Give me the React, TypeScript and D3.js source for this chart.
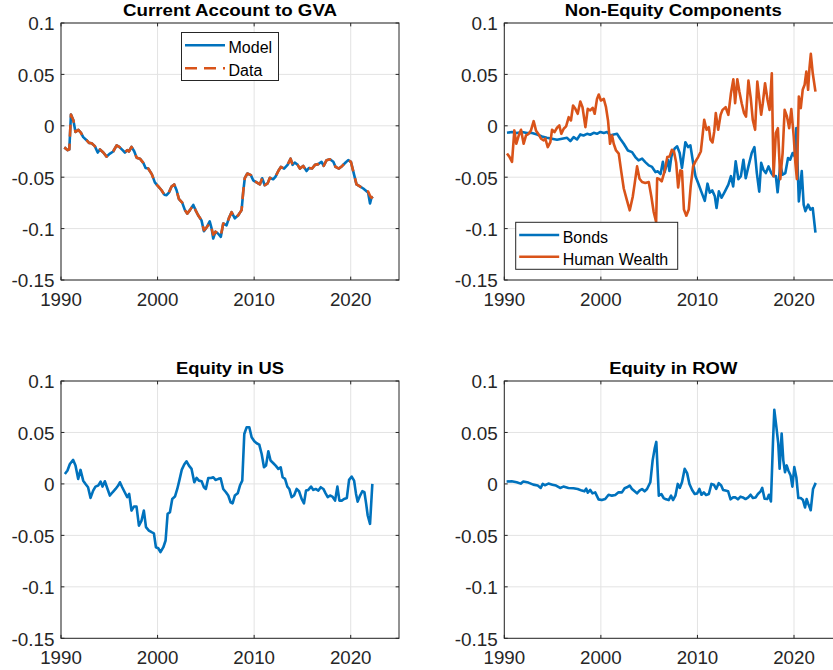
import React from "react";
import * as d3 from "d3";

// ---------- data ----------
const caYears = [1990.34, 1990.7, 1990.86, 1991.03, 1991.28, 1991.5, 1991.8, 1992.07, 1992.3, 1992.65, 1992.9, 1993.17, 1993.5, 1993.8, 1994.03, 1994.38, 1994.72, 1995.07, 1995.4, 1995.76, 1996.03, 1996.38, 1996.62, 1996.86, 1997.03, 1997.3, 1997.58, 1997.83, 1998.17, 1998.52, 1998.76, 1999.03, 1999.4, 1999.72, 2000.07, 2000.41, 2000.7, 2000.93, 2001.17, 2001.45, 2001.72, 2001.97, 2002.2, 2002.55, 2002.83, 2003.07, 2003.35, 2003.7, 2003.93, 2004.2, 2004.55, 2004.8, 2005.07, 2005.4, 2005.6, 2005.76, 2006.0, 2006.28, 2006.55, 2006.8, 2007.14, 2007.38, 2007.66, 2008.0, 2008.35, 2008.7, 2008.87, 2009.03, 2009.3, 2009.66, 2009.9, 2010.25, 2010.6, 2010.83, 2011.1, 2011.4, 2011.63, 2011.97, 2012.2, 2012.5, 2012.77, 2013.1, 2013.46, 2013.77, 2013.98, 2014.2, 2014.5, 2014.74, 2015.08, 2015.43, 2015.67, 2016.0, 2016.3, 2016.64, 2016.98, 2017.2, 2017.5, 2017.84, 2018.2, 2018.43, 2018.78, 2019.12, 2019.47, 2019.74, 2020.02, 2020.36, 2020.6, 2020.95, 2021.3, 2021.64, 2021.8, 2022.0, 2022.15, 2022.3];
const caModel = [-0.021, -0.0237, -0.023, 0.011, 0.0055, -0.006, -0.004, -0.0068, -0.011, -0.014, -0.0166, -0.017, -0.0198, -0.026, -0.023, -0.026, -0.03, -0.027, -0.025, -0.019, -0.0205, -0.0237, -0.026, -0.0237, -0.025, -0.0205, -0.0247, -0.031, -0.032, -0.036, -0.041, -0.0416, -0.047, -0.055, -0.059, -0.0627, -0.067, -0.0675, -0.065, -0.059, -0.057, -0.0627, -0.071, -0.0747, -0.082, -0.0854, -0.082, -0.077, -0.082, -0.087, -0.092, -0.1026, -0.099, -0.093, -0.1, -0.1097, -0.103, -0.105, -0.108, -0.095, -0.0968, -0.09, -0.084, -0.09, -0.087, -0.082, -0.064, -0.051, -0.0464, -0.048, -0.053, -0.055, -0.057, -0.051, -0.0578, -0.056, -0.0506, -0.052, -0.0497, -0.044, -0.04, -0.0416, -0.038, -0.032, -0.038, -0.0357, -0.038, -0.0416, -0.039, -0.044, -0.041, -0.0416, -0.038, -0.0373, -0.035, -0.039, -0.0334, -0.0325, -0.035, -0.04, -0.0416, -0.039, -0.0357, -0.0334, -0.035, -0.048, -0.057, -0.059, -0.061, -0.0636, -0.065, -0.0756, -0.07, -0.069];
const caData = [-0.021, -0.0237, -0.023, 0.011, 0.0055, -0.006, -0.004, -0.0068, -0.011, -0.014, -0.0166, -0.017, -0.0198, -0.025, -0.023, -0.026, -0.03, -0.027, -0.025, -0.019, -0.0205, -0.0237, -0.026, -0.0237, -0.025, -0.0205, -0.0247, -0.031, -0.032, -0.036, -0.041, -0.0416, -0.047, -0.055, -0.059, -0.0627, -0.067, -0.0675, -0.065, -0.059, -0.057, -0.0627, -0.071, -0.0747, -0.082, -0.0854, -0.082, -0.077, -0.082, -0.087, -0.092, -0.1016, -0.099, -0.095, -0.1, -0.106, -0.103, -0.105, -0.107, -0.095, -0.0968, -0.09, -0.084, -0.09, -0.087, -0.082, -0.064, -0.051, -0.0464, -0.048, -0.053, -0.055, -0.057, -0.051, -0.0578, -0.056, -0.0506, -0.052, -0.0497, -0.044, -0.04, -0.0416, -0.038, -0.032, -0.038, -0.0357, -0.038, -0.0416, -0.039, -0.044, -0.041, -0.0416, -0.038, -0.0373, -0.035, -0.039, -0.0334, -0.0325, -0.035, -0.04, -0.0416, -0.039, -0.0357, -0.0334, -0.035, -0.048, -0.057, -0.059, -0.061, -0.0636, -0.064, -0.068, -0.07, -0.069];

const bondYears = [1990.28, 1990.8, 1991.3, 1991.83, 1992.35, 1992.87, 1993.4, 1993.9, 1994.4, 1994.94, 1995.46, 1995.98, 1996.5, 1996.84, 1997.18, 1997.53, 1997.87, 1998.2, 1998.57, 1998.9, 1999.26, 1999.6, 1999.95, 2000.3, 2000.64, 2000.98, 2001.33, 2001.68, 2002.0, 2002.37, 2002.8, 2003.23, 2003.57, 2003.9, 2004.27, 2004.6, 2004.96, 2005.3, 2005.65, 2005.9, 2006.18, 2006.42, 2006.6, 2006.94, 2007.1, 2007.3, 2007.64, 2007.9, 2008.16, 2008.4, 2008.75, 2009.03, 2009.27, 2009.55, 2009.8, 2010.07, 2010.4, 2010.76, 2011.04, 2011.28, 2011.53, 2011.8, 2011.98, 2012.22, 2012.5, 2012.85, 2013.2, 2013.47, 2013.7, 2013.96, 2014.24, 2014.5, 2014.76, 2015.0, 2015.28, 2015.62, 2015.9, 2016.15, 2016.4, 2016.6, 2016.84, 2017.08, 2017.36, 2017.64, 2017.88, 2018.12, 2018.3, 2018.58, 2018.82, 2019.1, 2019.38, 2019.6, 2019.86, 2020.07, 2020.24, 2020.5, 2020.8, 2021.0, 2021.18, 2021.46, 2021.7, 2021.94, 2022.22];
const bondVals = [-0.0068, -0.006, -0.007, -0.006, -0.007, -0.007, -0.0084, -0.0104, -0.0117, -0.0126, -0.0136, -0.0126, -0.0117, -0.0149, -0.011, -0.0133, -0.0084, -0.0094, -0.0078, -0.0087, -0.0068, -0.0078, -0.006, -0.007, -0.006, -0.0094, -0.0084, -0.0078, -0.0126, -0.0175, -0.024, -0.0256, -0.0304, -0.0337, -0.032, -0.0353, -0.0385, -0.04, -0.045, -0.0443, -0.047, -0.035, -0.045, -0.033, -0.044, -0.03, -0.022, -0.02, -0.0265, -0.041, -0.016, -0.0207, -0.019, -0.036, -0.049, -0.0557, -0.064, -0.073, -0.0563, -0.065, -0.0628, -0.0686, -0.08, -0.0638, -0.07, -0.0638, -0.0573, -0.049, -0.059, -0.0346, -0.052, -0.049, -0.033, -0.051, -0.0395, -0.0265, -0.0207, -0.046, -0.064, -0.036, -0.043, -0.046, -0.0395, -0.046, -0.049, -0.049, -0.0647, -0.0379, -0.0476, -0.046, -0.0314, -0.033, -0.0265, -0.0298, -0.0023, -0.0735, -0.044, -0.0767, -0.083, -0.0767, -0.0815, -0.08, -0.104];

const hwYears = [1990.28, 1990.52, 1990.8, 1991.04, 1991.24, 1991.5, 1991.73, 1992.0, 1992.25, 1992.52, 1992.76, 1993.04, 1993.28, 1993.56, 1993.8, 1994.08, 1994.25, 1994.5, 1994.77, 1994.94, 1995.2, 1995.46, 1995.7, 1995.9, 1996.15, 1996.4, 1996.67, 1996.9, 1997.12, 1997.36, 1997.6, 1997.87, 1998.1, 1998.4, 1998.64, 1998.9, 1999.15, 1999.36, 1999.6, 1999.78, 2000.0, 2000.3, 2000.53, 2000.74, 2000.95, 2001.16, 2001.33, 2001.57, 2001.85, 2002.12, 2002.37, 2002.7, 2002.99, 2003.3, 2003.5, 2003.75, 2004.0, 2004.27, 2004.6, 2004.96, 2005.23, 2005.47, 2005.72, 2005.83, 2006.08, 2006.3, 2006.6, 2006.88, 2007.12, 2007.36, 2007.57, 2007.8, 2008.0, 2008.23, 2008.4, 2008.6, 2008.85, 2009.1, 2009.3, 2009.55, 2009.8, 2010.07, 2010.35, 2010.52, 2010.7, 2010.94, 2011.18, 2011.35, 2011.56, 2011.74, 2011.9, 2012.15, 2012.4, 2012.6, 2012.92, 2013.2, 2013.47, 2013.72, 2013.9, 2014.13, 2014.34, 2014.58, 2014.83, 2015.03, 2015.28, 2015.52, 2015.73, 2015.97, 2016.2, 2016.42, 2016.6, 2016.77, 2017.0, 2017.26, 2017.47, 2017.7, 2017.88, 2018.12, 2018.33, 2018.58, 2018.82, 2019.03, 2019.27, 2019.5, 2019.72, 2019.97, 2020.14, 2020.3, 2020.5, 2020.7, 2020.9, 2021.1, 2021.28, 2021.46, 2021.6, 2021.74, 2021.94, 2022.22];
const hwVals = [-0.027, -0.03, -0.035, -0.0045, -0.0175, -0.0094, -0.0039, -0.0175, -0.0094, -0.0078, -0.0045, 0.0045, -0.0045, -0.0084, -0.0126, -0.0142, -0.0126, -0.0207, -0.0159, -0.0039, -0.0061, -0.0019, 0.0003, -0.0078, -0.0029, -0.0006, 0.0084, 0.0052, 0.0197, 0.0165, 0.0117, 0.0236, 0.0181, -0.0013, 0.0165, 0.0149, 0.0175, 0.0117, 0.0262, 0.0304, 0.0246, 0.0262, 0.0181, 0.0052, -0.0175, -0.0094, -0.0175, -0.024, -0.027, -0.045, -0.061, -0.0725, -0.0822, -0.069, -0.0563, -0.0395, -0.0515, -0.0547, -0.0557, -0.0547, -0.069, -0.0838, -0.0935, -0.051, -0.052, -0.054, -0.044, -0.0304, -0.0298, -0.0233, -0.025, -0.036, -0.06, -0.0434, -0.044, -0.0815, -0.0874, -0.0815, -0.059, -0.0395, -0.0346, -0.0304, -0.025, -0.0104, 0.0058, -0.0039, -0.0013, -0.0136, -0.0162, -0.0055, 0.0123, -0.0039, 0.0107, 0.0155, 0.0181, 0.0107, 0.0317, 0.0453, 0.022, 0.0453, 0.0333, 0.022, 0.0123, 0.009, 0.044, 0.0269, 0.0058, -0.0039, 0.043, 0.0252, 0.0107, 0.022, 0.0414, 0.0252, 0.0155, 0.0511, -0.049, -0.0071, -0.0023, -0.052, -0.0265, 0.0155, 0.009, -0.0023, 0.0162, -0.0104, -0.036, -0.0518, 0.0285, 0.0172, 0.035, 0.04, 0.0528, 0.035, 0.056, 0.07, 0.0511, 0.0333];

const usYears = [1990.4, 1990.67, 1990.92, 1991.26, 1991.5, 1991.78, 1992.02, 1992.3, 1992.54, 1992.8, 1993.06, 1993.33, 1993.57, 1993.85, 1994.1, 1994.3, 1994.54, 1994.82, 1995.06, 1995.34, 1995.65, 1995.92, 1996.1, 1996.34, 1996.6, 1996.86, 1997.06, 1997.3, 1997.55, 1997.82, 1998.07, 1998.34, 1998.58, 1998.8, 1999.1, 1999.38, 1999.62, 1999.83, 2000.07, 2000.3, 2000.6, 2000.83, 2001.04, 2001.28, 2001.52, 2001.8, 2002.04, 2002.25, 2002.5, 2002.76, 2003.0, 2003.25, 2003.52, 2003.8, 2004.04, 2004.28, 2004.56, 2004.8, 2005.0, 2005.25, 2005.53, 2005.77, 2006.0, 2006.3, 2006.53, 2006.8, 2007.08, 2007.32, 2007.56, 2007.77, 2008.0, 2008.3, 2008.53, 2008.77, 2008.98, 2009.22, 2009.5, 2009.74, 2010.02, 2010.26, 2010.53, 2010.78, 2011.02, 2011.23, 2011.47, 2011.7, 2011.99, 2012.23, 2012.5, 2012.75, 2012.95, 2013.2, 2013.44, 2013.64, 2013.88, 2014.13, 2014.4, 2014.65, 2014.92, 2015.16, 2015.37, 2015.61, 2015.89, 2016.13, 2016.37, 2016.65, 2016.9, 2017.17, 2017.4, 2017.62, 2017.86, 2018.1, 2018.38, 2018.62, 2018.83, 2019.07, 2019.31, 2019.6, 2019.83, 2020.1, 2020.35, 2020.55, 2020.72, 2020.97, 2021.2, 2021.42, 2021.6, 2021.76, 2022.0, 2022.24];
const usVals = [0.0097, 0.013, 0.0194, 0.0233, 0.0178, 0.0049, 0.0136, 0.0032, 0.0, -0.0032, -0.0136, -0.0065, -0.0026, -0.0016, 0.0023, -0.0026, 0.0026, -0.0049, -0.0113, -0.0081, -0.0049, -0.0016, 0.0016, -0.0032, -0.0081, -0.0129, -0.0097, -0.0259, -0.022, -0.022, -0.0405, -0.0356, -0.0259, -0.042, -0.0453, -0.0469, -0.048, -0.0615, -0.0625, -0.0663, -0.0615, -0.055, -0.0291, -0.0275, -0.0146, -0.0123, -0.0049, 0.0032, 0.0136, 0.0188, 0.022, 0.0178, 0.0146, 0.0016, 0.0058, 0.0032, 0.0026, -0.0032, -0.0049, 0.0058, 0.0058, 0.0065, 0.0039, 0.0049, 0.0055, -0.0049, -0.0081, -0.0113, -0.0178, -0.0188, -0.0113, -0.0091, -0.0016, 0.0032, 0.0485, 0.055, 0.055, 0.0453, 0.0414, 0.0395, 0.0382, 0.0291, 0.0162, 0.0178, 0.0317, 0.0227, 0.0201, 0.0178, 0.0146, 0.0162, 0.0065, 0.0049, -0.0026, -0.0049, -0.0129, -0.0113, -0.0049, -0.0071, -0.0146, -0.0188, -0.0065, -0.0058, -0.0026, -0.0058, -0.0049, -0.0065, -0.0032, -0.0049, -0.0091, -0.0129, -0.0113, -0.0123, -0.0162, -0.0026, -0.0162, -0.0162, -0.0146, -0.0136, 0.0039, 0.0071, 0.0032, -0.0097, -0.0172, -0.0113, -0.0071, -0.0081, -0.0194, -0.0307, -0.0388, 0.0];

const rowYears = [1990.24, 1990.76, 1991.28, 1991.7, 1991.97, 1992.49, 1993.0, 1993.46, 1993.77, 1993.98, 1994.2, 1994.57, 1994.98, 1995.36, 1995.78, 1996.12, 1996.64, 1997.16, 1997.6, 1998.03, 1998.3, 1998.48, 1998.65, 1998.9, 1999.13, 1999.41, 1999.76, 2000.1, 2000.45, 2000.8, 2001.14, 2001.49, 2001.83, 2002.18, 2002.46, 2002.7, 2002.98, 2003.22, 2003.5, 2003.74, 2004.0, 2004.26, 2004.53, 2004.78, 2005.12, 2005.36, 2005.57, 2005.74, 2006.0, 2006.26, 2006.5, 2006.75, 2007.02, 2007.27, 2007.47, 2007.72, 2007.96, 2008.17, 2008.4, 2008.68, 2008.93, 2009.17, 2009.45, 2009.72, 2009.97, 2010.2, 2010.42, 2010.66, 2010.9, 2011.18, 2011.45, 2011.7, 2011.94, 2012.2, 2012.46, 2012.66, 2012.9, 2013.18, 2013.43, 2013.67, 2013.94, 2014.19, 2014.46, 2014.7, 2014.98, 2015.26, 2015.5, 2015.74, 2016.02, 2016.26, 2016.54, 2016.71, 2016.95, 2017.23, 2017.4, 2017.61, 2017.82, 2017.96, 2018.17, 2018.37, 2018.51, 2018.72, 2018.89, 2019.07, 2019.24, 2019.41, 2019.65, 2019.83, 2020.03, 2020.24, 2020.45, 2020.69, 2020.93, 2021.14, 2021.31, 2021.49, 2021.73, 2021.97, 2022.25];
const rowVals = [0.0023, 0.0026, 0.0016, 0.0003, 0.0023, 0.0013, -0.0007, -0.0016, -0.0039, 0.0, -0.0013, 0.0003, -0.0007, -0.0016, -0.0039, -0.0026, -0.0039, -0.0042, -0.0049, -0.0065, -0.0072, -0.0046, -0.0085, -0.0059, -0.0092, -0.0082, -0.015, -0.0157, -0.0147, -0.0105, -0.0114, -0.0108, -0.0082, -0.0082, -0.0042, -0.0033, -0.0016, -0.0049, -0.0072, -0.0092, -0.0065, -0.0049, -0.0072, -0.0049, 0.0016, 0.0229, 0.0343, 0.0408, -0.0114, -0.0098, -0.0137, -0.015, -0.0157, -0.0114, -0.0157, -0.0114, 0.0, -0.0039, 0.0016, 0.0147, 0.0105, 0.0, -0.0059, -0.0098, -0.0092, -0.0049, -0.0105, -0.0082, -0.0108, -0.0098, 0.0, -0.0007, -0.0049, 0.0007, -0.0016, -0.0059, -0.0065, -0.0072, -0.015, -0.0131, -0.0131, -0.015, -0.0124, -0.0131, -0.0147, -0.0131, -0.0105, -0.0137, -0.0131, -0.0098, -0.0072, -0.0039, -0.0144, -0.0147, -0.0105, -0.017, 0.04, 0.0719, 0.0556, 0.0392, 0.0147, 0.049, 0.0229, 0.0114, 0.018, 0.0131, 0.0082, -0.0026, 0.0163, 0.0065, -0.0137, -0.0137, -0.0157, -0.0229, -0.0147, -0.0196, -0.0255, -0.0049, 0.001];

const xTicks = [1990, 2000, 2010, 2020];
const yTicks = [-0.15, -0.1, -0.05, 0, 0.05, 0.1];
const yTickLabels = ["-0.15", "-0.1", "-0.05", "0", "0.05", "0.1"];
const xDomain = [1990, 2025];
const yDomain = [-0.15, 0.1];

const BLUE = "#0072BD";
const ORANGE = "#D95319";
const FONT = "'Liberation Sans', Arial, Helvetica, sans-serif";

type Series = { years: number[]; vals: number[]; color: string; dash?: string; name: string };

function Panel(props: {
  x0: number; x1: number; y0: number; y1: number;
  title: string; titleWidth: number;
  series: Series[];
  legend?: { x: number; y: number; w: number; h: number; lineLen: number; rowH: number; items: Series[] };
}) {
  const { x0, x1, y0, y1, title, titleWidth, series, legend } = props;
  const xs = d3.scaleLinear().domain(xDomain).range([x0, x1]);
  const ys = d3.scaleLinear().domain(yDomain).range([y1, y0]);
  const tl = 3.4;
  const axisColor = "#262626";
  const tickFs = 17.5;
  return (
    <g>
      <rect x={x0} y={y0} width={x1 - x0} height={y1 - y0} fill="#fff" />
      {xTicks.map((t) => (
        <line key={"gx" + t} x1={xs(t)} x2={xs(t)} y1={y0} y2={y1} stroke="#e3e3e3" strokeWidth={1} />
      ))}
      {yTicks.map((t) => (
        <line key={"gy" + t} x1={x0} x2={x1} y1={ys(t)} y2={ys(t)} stroke="#e3e3e3" strokeWidth={1} />
      ))}
      {series.map((s, i) => {
        const line = d3.line<number>().x((_, j) => xs(s.years[j])).y((v) => ys(v));
        return (
          <path key={i} d={line(s.vals) || ""} fill="none" stroke={s.color} strokeWidth={2.6}
            strokeDasharray={s.dash} strokeLinejoin="round" />
        );
      })}
      <rect x={x0} y={y0} width={x1 - x0} height={y1 - y0} fill="none" stroke={axisColor} strokeWidth={1} />
      {xTicks.map((t) => (
        <g key={"tx" + t}>
          <line x1={xs(t)} x2={xs(t)} y1={y1} y2={y1 - tl} stroke={axisColor} />
          <line x1={xs(t)} x2={xs(t)} y1={y0} y2={y0 + tl} stroke={axisColor} />
          <text transform={`translate(${xs(t)},${y1 + 25.7}) scale(1.07,1)`} textAnchor="middle" fontSize={tickFs}
            fill={axisColor} fontFamily={FONT}>{t}</text>
        </g>
      ))}
      {yTicks.map((t, i) => (
        <g key={"ty" + t}>
          <line x1={x0} x2={x0 + tl} y1={ys(t)} y2={ys(t)} stroke={axisColor} />
          <line x1={x1} x2={x1 - tl} y1={ys(t)} y2={ys(t)} stroke={axisColor} />
          <text transform={`translate(${x0 - 6.5},${ys(t) + 7.3}) scale(1.08,1)`} textAnchor="end" fontSize={tickFs}
            fill={axisColor} fontFamily={FONT}>{yTickLabels[i]}</text>
        </g>
      ))}
      <text x={(x0 + x1) / 2} y={y0 - 7.5} textAnchor="middle" fontSize={16} fontWeight="bold"
        fontFamily={FONT} fill="#000" textLength={titleWidth} lengthAdjust="spacingAndGlyphs">{title}</text>
      {legend && (
        <g>
          <rect x={legend.x} y={legend.y} width={legend.w} height={legend.h} fill="#fff" stroke={axisColor} strokeWidth={1} />
          {legend.items.map((s, i) => {
            const cy = legend.y + 12.7 + i * legend.rowH;
            return (
              <g key={i}>
                <line x1={legend.x + 3.5} x2={legend.x + 3.5 + legend.lineLen} y1={cy} y2={cy} stroke={s.color}
                  strokeWidth={2.6} strokeDasharray={s.dash} />
                <text x={legend.x + 7 + legend.lineLen} y={cy + 7.8} fontSize={16} fill="#000" fontFamily={FONT}>{s.name}</text>
              </g>
            );
          })}
        </g>
      )}
    </g>
  );
}

export default function App() {
  const model: Series = { years: caYears, vals: caModel, color: BLUE, name: "Model" };
  const data: Series = { years: caYears, vals: caData, color: ORANGE, dash: "12,7", name: "Data" };
  const bonds: Series = { years: bondYears, vals: bondVals, color: BLUE, name: "Bonds" };
  const hw: Series = { years: hwYears, vals: hwVals, color: ORANGE, name: "Human Wealth" };
  const us: Series = { years: usYears, vals: usVals, color: BLUE, name: "US" };
  const row: Series = { years: rowYears, vals: rowVals, color: BLUE, name: "ROW" };
  return (
    <svg width={833} height={670} style={{ position: "absolute", left: 0, top: 0, background: "#fff" }}>
      <rect x={0} y={0} width={833} height={670} fill="#fff" />
      <Panel x0={61} x1={399} y0={23} y1={280} title="Current Account to GVA" titleWidth={214}
        series={[model, data]}
        legend={{ x: 181.5, y: 32.5, w: 97, h: 48, lineLen: 40, rowH: 23, items: [model, data] }} />
      <Panel x0={504.3} x1={842.3} y0={23} y1={280} title="Non-Equity Components" titleWidth={217}
        series={[bonds, hw]}
        legend={{ x: 515.7, y: 222.3, w: 162, h: 47, lineLen: 40, rowH: 21.7, items: [bonds, hw] }} />
      <Panel x0={61} x1={399} y0={381} y1={638.3} title="Equity in US" titleWidth={108}
        series={[us]} />
      <Panel x0={504.3} x1={842.3} y0={381} y1={638.3} title="Equity in ROW" titleWidth={128}
        series={[row]} />
    </svg>
  );
}
